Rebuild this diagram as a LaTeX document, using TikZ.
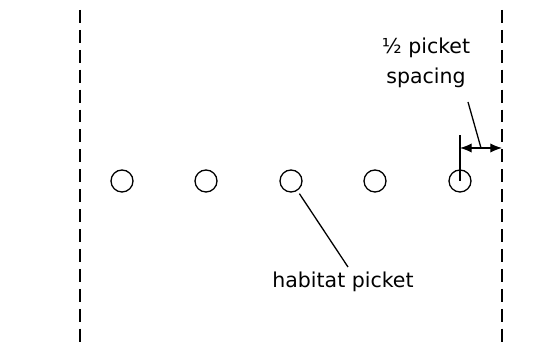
\documentclass[tikz,border=0pt]{standalone}
\usepackage{fontspec}
\setmainfont{DejaVu Sans}
\usetikzlibrary{arrows.meta}

\begin{document}
\begin{tikzpicture}[x=0.03cm,y=-0.03cm,line width=1.1pt,
	picket/.style={draw,circle,minimum size=0.66cm,inner sep=0pt},
	border/.style={dash pattern=on 11pt off 6pt,line width=1.3pt},
	lbl/.style={font=\fontsize{17.5}{25.5}\selectfont,align=center}]

	\useasboundingbox (0,0) rectangle (555,349);

	\coordinate (lt) at (80,10);
	\coordinate (lb) at (80,345);
	\coordinate (rt) at (502,10);
	\coordinate (rb) at (502,345);

	\draw[border] (lt) -- (lb);
	\draw[border] (rt) -- (rb);

	\foreach \i/\x in {1/122,2/206,3/291,4/375,5/460}
		\node[picket] (p\i) at (\x,181) {};

	% half spacing
	\coordinate (tick) at (460,135);
	\coordinate (a) at (460,148);
	\coordinate (b) at (502,148);
	\coordinate (mid) at (481,148);
	\draw (p5.center) -- (tick);
	\draw[{Latex[length=10pt,width=8pt]}-{Latex[length=10pt,width=8pt]}] (a) -- (b);

	\node[lbl] (half) at (426,63) {½ picket\\spacing};
	\coordinate (hs) at (468,102);
	\draw (hs) -- (mid);

	% picket label
	\node[lbl] (hab) at (343,282) {habitat picket};
	\coordinate (hp) at (348,267);
	\draw[shorten <=3pt] (p3) -- (hp);

\end{tikzpicture}
\end{document}
